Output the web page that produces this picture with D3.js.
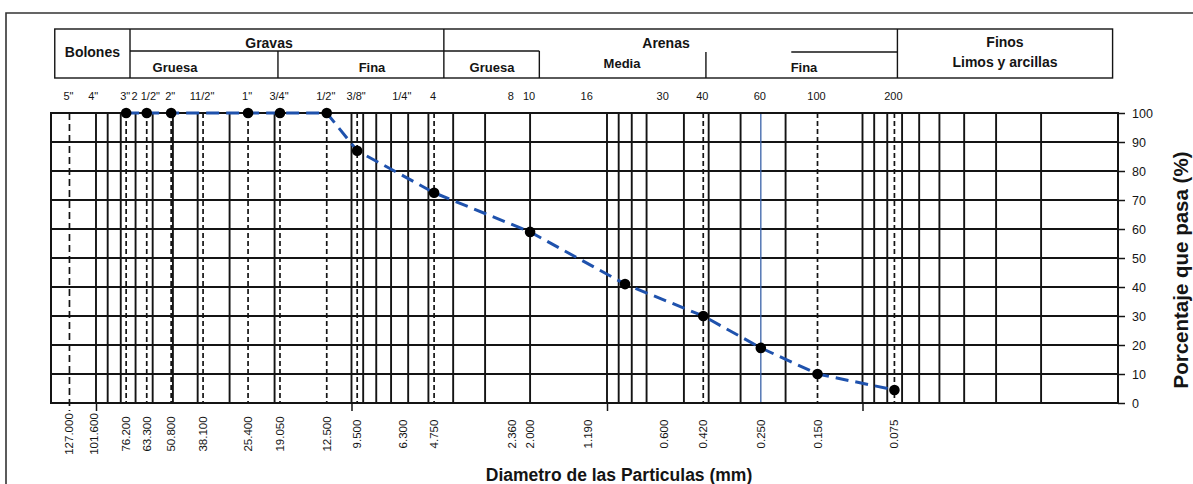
<!DOCTYPE html>
<html>
<head>
<meta charset="utf-8">
<script src="https://cdn.jsdelivr.net/npm/d3@7/dist/d3.min.js"></script>
<style>
  html, body { margin: 0; padding: 0; background: #fff; }
  svg { display: block; font-family: "Liberation Sans", Arial, sans-serif; }
</style>
</head>
<body>
<svg id="chart" width="1193" height="484"></svg>
<script>
// ---------------- data ----------------
const sieveNames = ['5"', '4"', '3"', '2 1/2"', '2"', '11/2"', '1"', '3/4"', '1/2"', '3/8"', '1/4"', '4', '8', '10', '16', '30', '40', '60', '100', '200'];
const sieveSizes = [127, 101.6, 76.2, 63.3, 50.8, 38.1, 25.4, 19.05, 12.5, 9.5, 6.3, 4.75, 2.36, 2.0, 1.19, 0.6, 0.42, 0.25, 0.15, 0.075];
const sizeLabels = ["127.000", "101.600", "76.200", "63.300", "50.800", "38.100", "25.400", "19.050", "12.500", "9.500", "6.300", "4.750", "2.360", "2.000", "1.190", "0.600", "0.420", "0.250", "0.150", "0.075"];
const dashedSieves = [127, 76.2, 63.3, 50.8, 38.1, 25.4, 19.05, 12.5, 9.5, 4.75, 0.42, 0.15, 0.075];
const highlightSieves = [0.25];
const decadeTicks = [100, 10, 1, 0.1];
const gridMultipliers = [1, 2, 3, 4, 5, 6, 7, 8, 9];
const gridDecades = [10, 1, 0.1, 0.01];
const gridOmitted = [0.6];

const sampleSizes = [76.2, 63.3, 50.8, 25.4, 19.05, 12.5, 9.5, 4.75, 2.0, 0.85, 0.42, 0.25, 0.15, 0.075];
const percentPassing = [100, 100, 100, 100, 100, 100, 87, 72.5, 59, 41, 30, 19, 10, 4.5];

const yTicks = [0, 10, 20, 30, 40, 50, 60, 70, 80, 90, 100];

// header classification (boundaries in mm)
const classMain = [
  { name: "Bolones", from: 145, to: 73.6 },
  { name: "Gravas", from: 73.6, to: 4.35 },
  { name: "Arenas", from: 4.35, to: 0.073 },
  { name: "Finos", from: 0.073, to: 0.0105 }
];
const classSub = [
  { name: "Gruesa", from: 73.6, to: 19.4 },
  { name: "Fina", from: 19.4, to: 4.35 },
  { name: "Gruesa", from: 4.35, to: 1.84 },
  { name: "Media", from: 1.84, to: 0.41 },
  { name: "Fina", from: 0.41, to: 0.073 }
];

// ---------------- layout ----------------
const svg = d3.select("#chart");
const W = 1193, H = 484;
const plot = { left: 51, right: 1118, top: 113, bottom: 403 };

const x = d3.scaleLog().domain([150, 0.01]).range([plot.left, plot.right]);
const y = d3.scaleLinear().domain([0, 100]).range([plot.bottom, plot.top]);

const ink = "#141414";
const blue = "#1f52ad";

svg.append("rect").attr("width", W).attr("height", H).attr("fill", "#fff");

// page frame (scanned sheet border)
svg.append("path")
  .attr("d", `M6,${H + 5} L6,13 L${W + 5},13`)
  .attr("fill", "none").attr("stroke", "#333").attr("stroke-width", 1.6);

// ---------------- header table ----------------
const hTop = 29, hMid = 51, hBot = 78;
const head = svg.append("g").attr("stroke", ink).attr("stroke-width", 1.4).attr("fill", "none");
head.append("rect")
  .attr("x", x(145)).attr("y", hTop)
  .attr("width", x(0.0105) - x(145)).attr("height", hBot - hTop);
classMain.slice(1).forEach(c => {
  head.append("line").attr("x1", x(c.from)).attr("x2", x(c.from)).attr("y1", hTop).attr("y2", hBot);
});
// Gravas split
head.append("line").attr("x1", x(73.6)).attr("x2", x(4.35)).attr("y1", hMid).attr("y2", hMid);
head.append("line").attr("x1", x(19.4)).attr("x2", x(19.4)).attr("y1", hMid).attr("y2", hBot);
// Arenas partial splits
head.append("line").attr("x1", x(4.35)).attr("x2", x(1.84)).attr("y1", hMid).attr("y2", hMid);
head.append("line").attr("x1", x(1.84)).attr("x2", x(1.84)).attr("y1", hMid).attr("y2", hBot);
head.append("line").attr("x1", x(0.41)).attr("x2", x(0.41)).attr("y1", hMid + 1).attr("y2", hBot);
head.append("line").attr("x1", x(0.19)).attr("x2", x(0.073)).attr("y1", hMid + 1).attr("y2", hMid + 1);

const ht = svg.append("g").attr("fill", ink).attr("font-weight", "bold").attr("text-anchor", "middle");
ht.append("text").attr("x", x(145) + (x(73.6) - x(145)) / 2).attr("y", 57).attr("font-size", 14).text("Bolones");
ht.append("text").attr("x", 269).attr("y", 48).attr("font-size", 14).text("Gravas");
ht.append("text").attr("x", 666).attr("y", 48).attr("font-size", 14).text("Arenas");
ht.append("text").attr("x", (x(0.073) + x(0.0105)) / 2).attr("y", 47).attr("font-size", 14).text("Finos");
ht.append("text").attr("x", (x(0.073) + x(0.0105)) / 2).attr("y", 67).attr("font-size", 14).text("Limos y arcillas");
const subPos = [175, 372, 492, 622, 804];
const subY = [72, 72, 72, 68, 72];
classSub.forEach((c, i) => {
  ht.append("text").attr("x", subPos[i]).attr("y", subY[i]).attr("font-size", 13).text(c.name);
});

// ---------------- top sieve names ----------------
svg.append("g").selectAll("text").data(sieveSizes).join("text")
  .attr("x", d => x(d) - 1)
  .attr("y", 100)
  .attr("text-anchor", "middle")
  .attr("font-size", 11)
  .attr("fill", ink)
  .text((d, i) => sieveNames[i]);

// ---------------- grid ----------------
const gridVals = [100];
gridDecades.forEach(dk => gridMultipliers.forEach(m => {
  const v = +(m * dk).toPrecision(3);
  if (!gridOmitted.includes(v)) gridVals.push(v);
}));

const grid = svg.append("g").attr("stroke", ink).attr("stroke-width", 1.9);
grid.selectAll("line.h").data(yTicks).join("line").attr("class", "h")
  .attr("x1", plot.left).attr("x2", plot.right)
  .attr("y1", d => y(d)).attr("y2", d => y(d));
grid.selectAll("line.v").data(gridVals.filter(v => v < 150 && v > 0.01)).join("line").attr("class", "v")
  .attr("x1", d => x(d)).attr("x2", d => x(d))
  .attr("y1", plot.top).attr("y2", plot.bottom);

// sieve dashed lines
svg.append("g").selectAll("line").data(dashedSieves).join("line")
  .attr("x1", d => x(d)).attr("x2", d => x(d))
  .attr("y1", plot.top).attr("y2", (d, i) => i === 0 ? plot.bottom + 8 : plot.bottom)
  .attr("stroke", ink).attr("stroke-width", 1.7)
  .attr("stroke-dasharray", (d, i) => i === 0 ? "7,4" : "5,3");

svg.append("g").selectAll("line").data(highlightSieves).join("line")
  .attr("x1", d => x(d)).attr("x2", d => x(d))
  .attr("y1", plot.top).attr("y2", plot.bottom)
  .attr("stroke", "#3a63a8").attr("stroke-width", 1.3);

// plot frame
svg.append("rect")
  .attr("x", plot.left).attr("y", plot.top)
  .attr("width", plot.right - plot.left).attr("height", plot.bottom - plot.top)
  .attr("fill", "none").attr("stroke", ink).attr("stroke-width", 2);

// ---------------- axes ----------------
const yAxis = svg.append("g")
  .attr("transform", `translate(${plot.right},0)`)
  .call(d3.axisRight(y).tickValues(yTicks).tickSize(7).tickPadding(7).tickFormat(d3.format("d")));
yAxis.select(".domain").remove();
yAxis.selectAll("line").attr("stroke", ink).attr("stroke-width", 1.5);
yAxis.selectAll("text").attr("font-size", 12.5).attr("fill", ink)
  .attr("font-family", "'Liberation Sans', Arial, sans-serif");

const xAxis = svg.append("g")
  .attr("transform", `translate(0,${plot.bottom})`)
  .call(d3.axisBottom(x).tickValues(decadeTicks).tickSize(8).tickFormat(""));
xAxis.select(".domain").remove();
xAxis.selectAll("line").attr("stroke", ink).attr("stroke-width", 1.5);

// bottom size labels (rotated)
svg.append("g").selectAll("text").data(sieveSizes).join("text")
  .attr("transform", d => `translate(${x(d) + 4},434) rotate(-90)`)
  .attr("text-anchor", "middle")
  .attr("font-size", 11.5)
  .attr("fill", ink)
  .text((d, i) => sizeLabels[i]);

// ---------------- curve ----------------
const pts = sampleSizes.map((s, i) => [s, percentPassing[i]]);
svg.append("path")
  .datum(pts)
  .attr("d", d3.line().x(d => x(d[0])).y(d => y(d[1])))
  .attr("fill", "none")
  .attr("stroke", blue)
  .attr("stroke-width", 3)
  .attr("stroke-dasharray", "13,7");

svg.append("g").selectAll("circle").data(pts).join("circle")
  .attr("cx", d => x(d[0])).attr("cy", d => y(d[1]))
  .attr("r", 5.3).attr("fill", "#000");

// ---------------- titles ----------------
svg.append("text")
  .attr("x", 619).attr("y", 481)
  .attr("text-anchor", "middle")
  .attr("font-size", 17.5).attr("font-weight", "bold").attr("fill", ink)
  .text("Diametro de las Particulas (mm)");

svg.append("text")
  .attr("transform", "translate(1188,270) rotate(-90)")
  .attr("text-anchor", "middle")
  .attr("font-size", 20.5).attr("font-weight", "bold").attr("fill", ink)
  .text("Porcentaje que pasa (%)");
</script>
</body>
</html>
